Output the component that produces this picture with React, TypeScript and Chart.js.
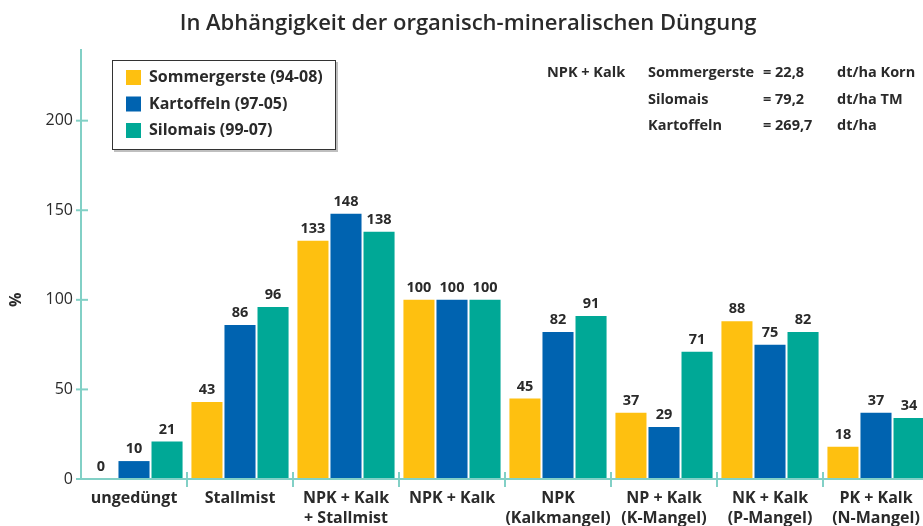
import React, { useEffect, useRef } from "react";
import { Chart, registerables } from "chart.js";

Chart.register(...registerables);

const categories: string[][] = [
  ["ungedüngt"],
  ["Stallmist"],
  ["NPK + Kalk", "+ Stallmist"],
  ["NPK + Kalk"],
  ["NPK", "(Kalkmangel)"],
  ["NP + Kalk", "(K-Mangel)"],
  ["NK + Kalk", "(P-Mangel)"],
  ["PK + Kalk", "(N-Mangel)"],
];
const seriesNames = ["Sommergerste (94-08)", "Kartoffeln (97-05)", "Silomais (99-07)"];
const sommergerste = [0, 43, 133, 100, 45, 37, 88, 18];
const kartoffeln = [10, 86, 148, 100, 82, 29, 75, 37];
const silomais = [21, 96, 138, 100, 91, 71, 82, 34];
const yTicks = [0, 50, 100, 150, 200];
const titleText = "In Abhängigkeit der organisch-mineralischen Düngung";
const noteRows = [
  ["NPK + Kalk", "Sommergerste", "= 22,8", "dt/ha Korn"],
  ["", "Silomais", "= 79,2", "dt/ha TM"],
  ["", "Kartoffeln", "= 269,7", "dt/ha"],
];

const COLORS = ["#FEC010", "#0063B0", "#00A896"];
const AXIS = "#82D0C6";
const TEXT = "#2a2a2a";
const FONT = "'Open Sans', 'Noto Sans', sans-serif";

const overlay = {
  id: "overlay",
  afterDatasetsDraw(chart: any) {
    const ctx = chart.ctx as CanvasRenderingContext2D;
    const x = chart.scales.x;
    const y = chart.scales.y;
    const area = chart.chartArea;
    ctx.save();

    // data labels
    ctx.fillStyle = TEXT;
    ctx.font = `bold 14.5px ${FONT}`;
    ctx.textAlign = "center";
    ctx.textBaseline = "middle";
    chart.data.datasets.forEach((ds: any, di: number) => {
      const meta = chart.getDatasetMeta(di);
      meta.data.forEach((bar: any, i: number) => {
        ctx.fillText(String(ds.data[i]), bar.x, bar.y - 12);
      });
    });

    // axes
    const y0 = y.getPixelForValue(0);
    ctx.strokeStyle = AXIS;
    ctx.lineWidth = 2;
    ctx.beginPath();
    ctx.moveTo(area.left, area.top);
    ctx.lineTo(area.left, y0);
    ctx.moveTo(area.left, y0);
    ctx.lineTo(chart.width, y0);
    ctx.stroke();

    // y ticks
    ctx.font = `16px ${FONT}`;
    ctx.textAlign = "right";
    yTicks.forEach((v) => {
      const py = y.getPixelForValue(v);
      ctx.beginPath();
      ctx.moveTo(area.left - 5, py);
      ctx.lineTo(area.left + 7, py);
      ctx.stroke();
      ctx.fillText(String(v), area.left - 8, py);
    });

    // x ticks and labels
    const n = categories.length;
    const w = x.getPixelForValue(1) - x.getPixelForValue(0);
    for (let i = 1; i <= n; i++) {
      const px = x.getPixelForValue(i) - w / 2;
      ctx.beginPath();
      ctx.moveTo(px, y0 - 7);
      ctx.lineTo(px, y0 + 8);
      ctx.stroke();
    }
    ctx.font = `bold 16px ${FONT}`;
    ctx.textAlign = "center";
    categories.forEach((lines, i) => {
      const px = x.getPixelForValue(i);
      lines.forEach((l, li) => ctx.fillText(l, px, y0 + 19 + li * 20));
    });

    // y title
    ctx.save();
    ctx.translate(16, y.getPixelForValue(100));
    ctx.rotate(-Math.PI / 2);
    ctx.font = `bold 16px ${FONT}`;
    ctx.textAlign = "center";
    ctx.fillText("%", 0, 0);
    ctx.restore();

    // title
    ctx.font = `600 22px ${FONT}`;
    ctx.textAlign = "center";
    ctx.fillText(titleText, 468, 24);

    // legend
    ctx.fillStyle = "rgba(0,0,0,0.25)";
    ctx.fillRect(114, 62, 224, 90);
    ctx.fillStyle = "#fff";
    ctx.fillRect(112, 60, 224, 90);
    ctx.strokeStyle = "#333";
    ctx.lineWidth = 1;
    ctx.strokeRect(112.5, 60.5, 223, 89);
    ctx.font = `bold 16px ${FONT}`;
    ctx.textAlign = "left";
    chart.data.datasets.forEach((ds: any, di: number) => {
      const cy = 77.5 + di * 26.5;
      ctx.fillStyle = ds.backgroundColor;
      ctx.fillRect(126, cy - 7.5, 15, 15);
      ctx.fillStyle = TEXT;
      ctx.fillText(ds.label, 149, cy);
    });

    // note
    ctx.font = `bold 14.5px ${FONT}`;
    const cols = [547, 648, 763, 837];
    noteRows.forEach((row, ri) => {
      const cy = 73 + ri * 26.5;
      row.forEach((t, ci) => {
        if (t) ctx.fillText(t, cols[ci], cy);
      });
    });

    ctx.restore();
  },
};

export default function App() {
  const ref = useRef<HTMLCanvasElement>(null);
  useEffect(() => {
    if (!ref.current) return;
    const chart = new Chart(ref.current, {
      type: "bar",
      data: {
        labels: categories.map((c) => c.join(" ")),
        datasets: [sommergerste, kartoffeln, silomais].map((d, i) => ({
          label: seriesNames[i],
          data: d,
          backgroundColor: COLORS[i],
          borderWidth: 0,
          categoryPercentage: 0.935,
          barPercentage: 0.94,
        })),
      },
      options: {
        animation: false,
        responsive: false,
        maintainAspectRatio: false,
        layout: { padding: { left: 81, top: 49, right: 6, bottom: 47 } },
        plugins: { legend: { display: false }, title: { display: false }, tooltip: { enabled: false } },
        scales: {
          x: { display: false, offset: true },
          y: { display: false, min: 0, max: 240 },
        },
      },
      plugins: [overlay],
    });
    return () => chart.destroy();
  }, []);
  return (
    <div style={{ position: "fixed", left: 0, top: 0, width: 923, height: 526, overflow: "hidden", background: "#fff" }}>
      <canvas ref={ref} width={935} height={526} style={{ display: "block", width: 935, height: 526 }} />
    </div>
  );
}
